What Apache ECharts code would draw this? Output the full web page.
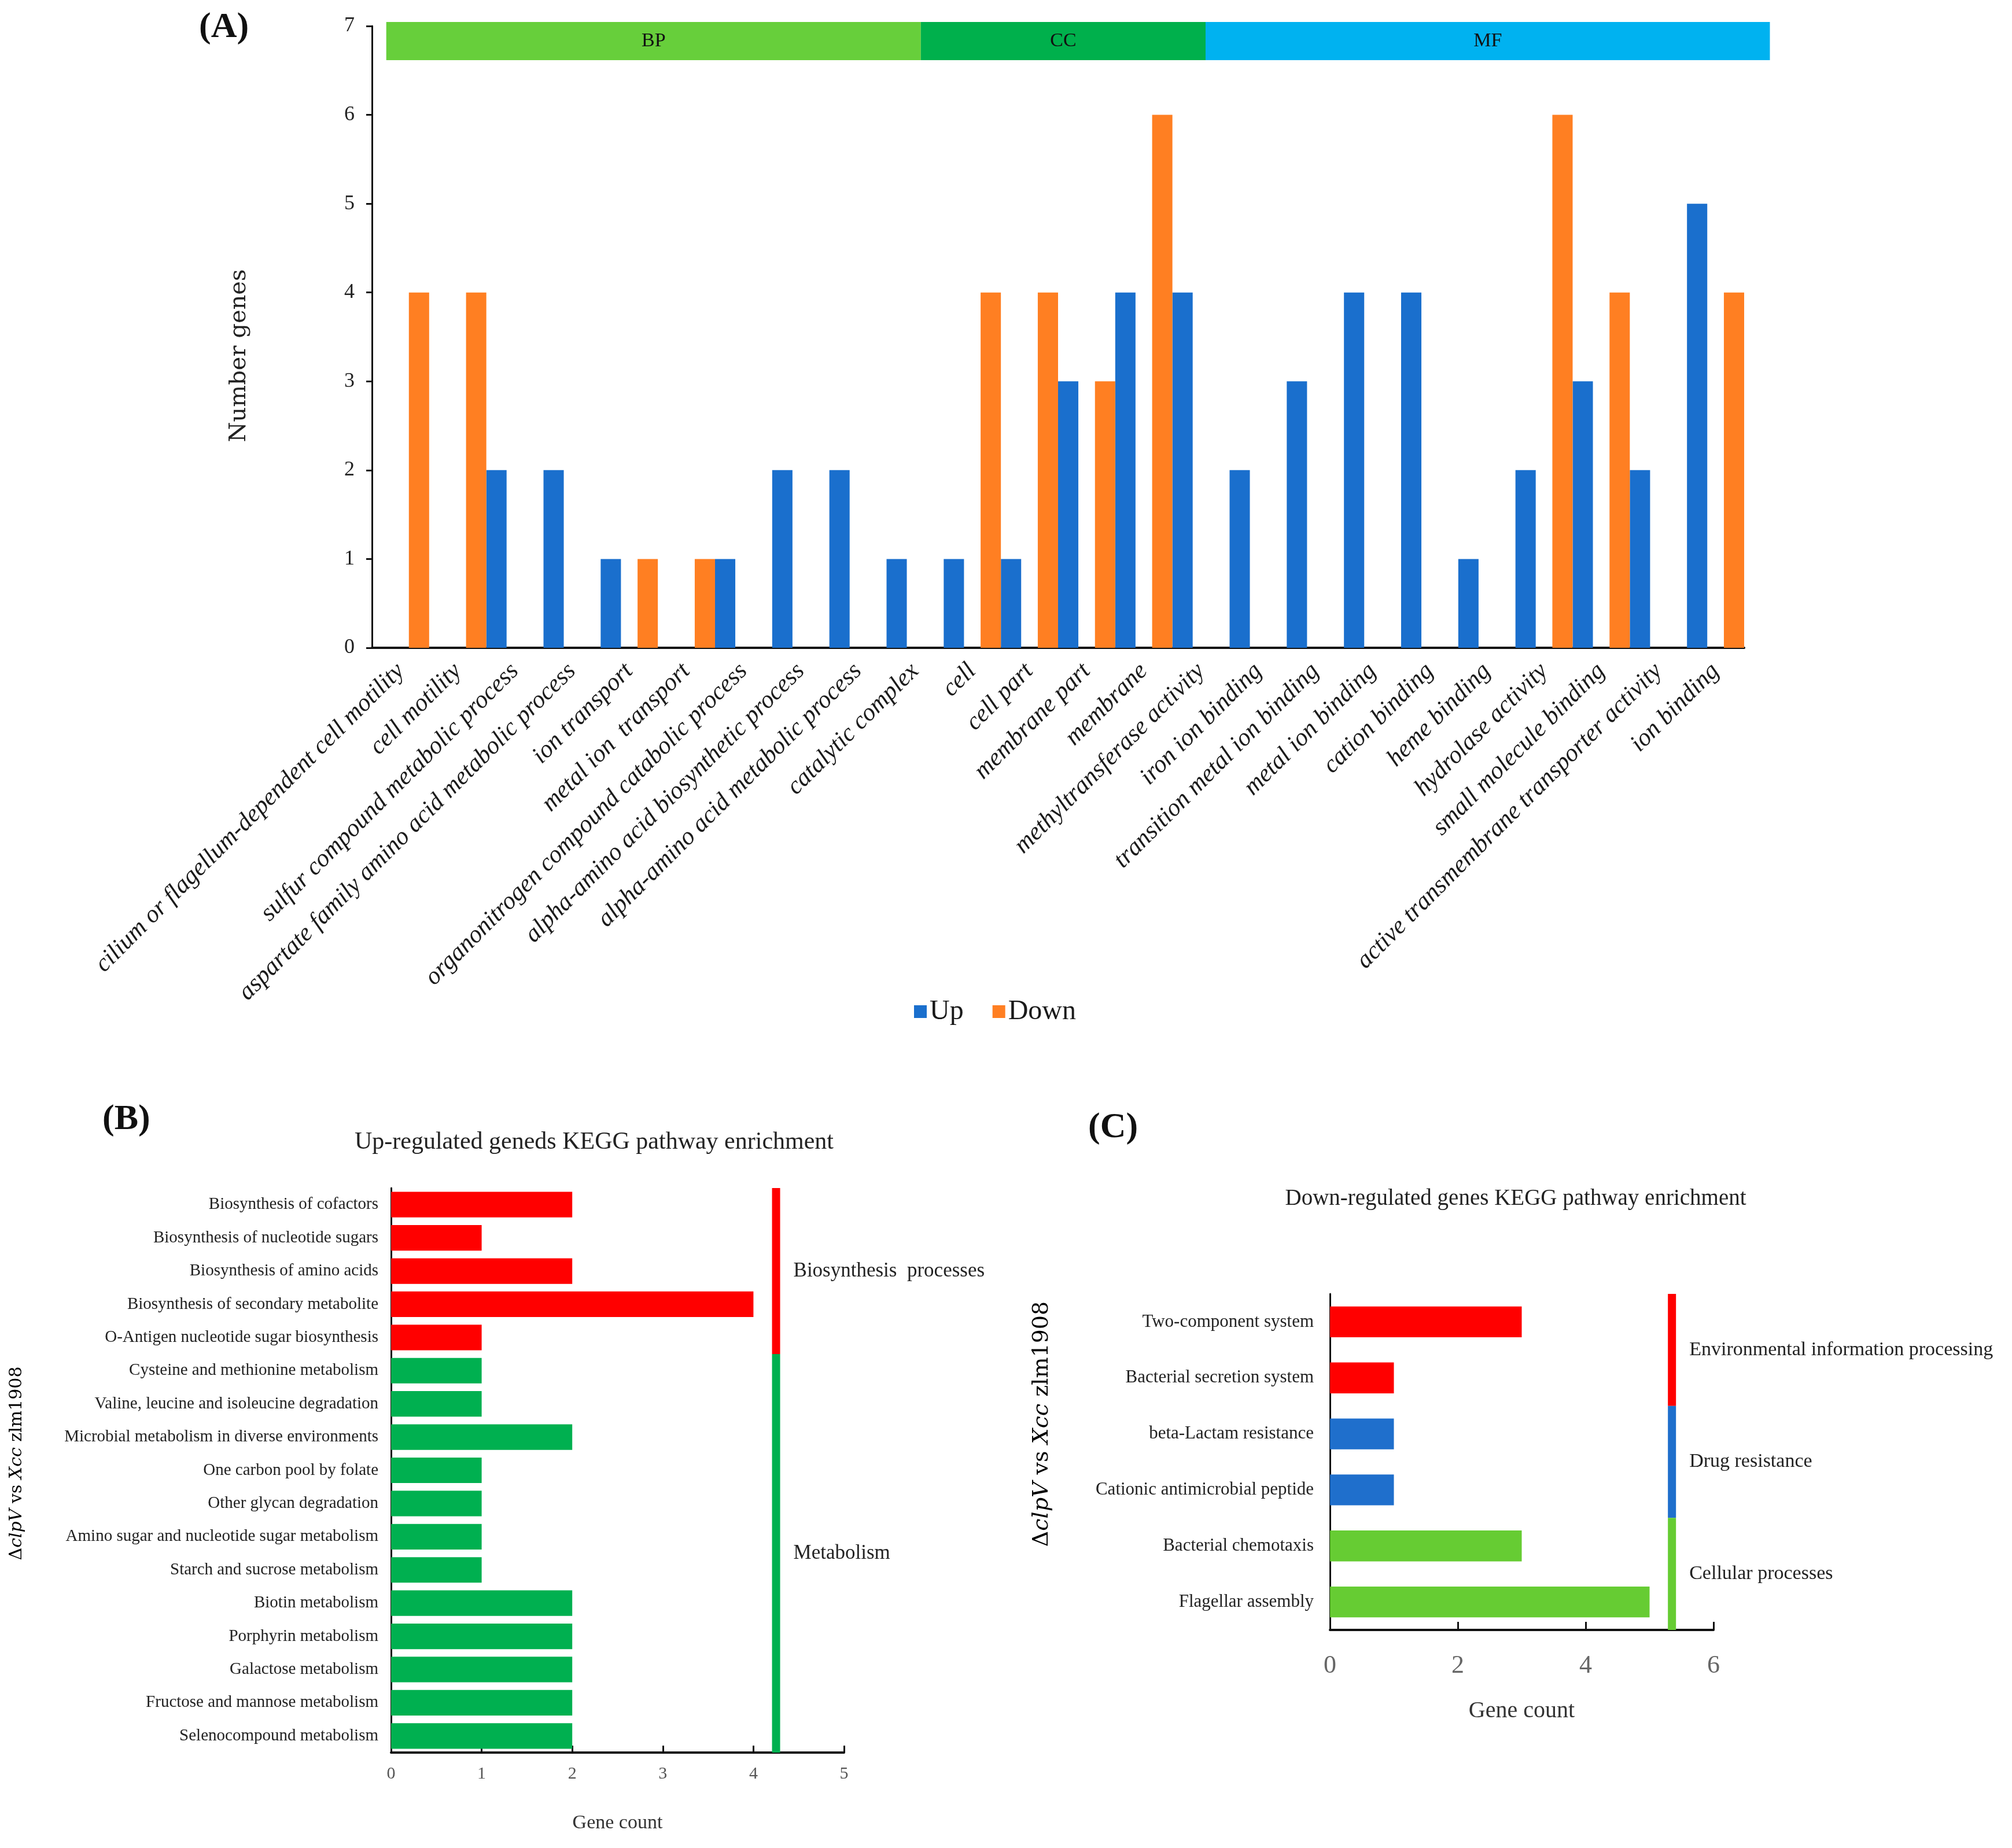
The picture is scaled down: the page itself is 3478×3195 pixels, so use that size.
<!DOCTYPE html>
<html><head><meta charset="utf-8">
<script src="https://cdn.jsdelivr.net/npm/echarts@6/dist/echarts.min.js"></script>
<style>html,body{margin:0;padding:0;background:#fff}#c{width:3478px;height:3195px}</style>
</head><body><div id="c"></div>
<script>
// ---------- Panel A data ----------
const categoriesA = ['cilium or flagellum-dependent cell motility','cell motility','sulfur compound metabolic process','aspartate family amino acid metabolic process','ion transport','metal ion  transport','organonitrogen compound catabolic process','alpha-amino acid biosynthetic process','alpha-amino acid metabolic process','catalytic complex','cell','cell part','membrane part','membrane','methyltransferase activity','iron ion binding','transition metal ion binding','metal ion binding','cation binding','heme binding','hydrolase activity','small molecule binding','active transmembrane transporter activity','ion binding'];
const upA   = [0,0,2,2,1,0,1,2,2,1,1,1,3,4,4,2,3,4,4,1,2,3,2,5];
const downA = [4,4,0,0,1,1,0,0,0,0,4,4,3,6,0,0,0,0,0,0,6,4,0,4];
const stripNames = ['BP','CC','MF'];
const stripFrom = [0.25, 9.6, 14.58];
const stripTo   = [9.6, 14.58, 24.45];

// ---------- Panel B data ----------
const categoriesB = ['Biosynthesis of cofactors','Biosynthesis of nucleotide sugars','Biosynthesis of amino acids','Biosynthesis of secondary metabolite','O-Antigen nucleotide sugar biosynthesis','Cysteine and methionine metabolism','Valine, leucine and isoleucine degradation','Microbial metabolism in diverse environments','One carbon pool by folate','Other glycan degradation','Amino sugar and nucleotide sugar metabolism','Starch and sucrose metabolism','Biotin metabolism','Porphyrin metabolism','Galactose metabolism','Fructose and mannose metabolism','Selenocompound metabolism'];
const valuesB = [2,1,2,4,1,1,1,2,1,1,1,1,2,2,2,2,2];
const groupNamesB = ['Biosynthesis  processes','Metabolism'];
const groupSizesB = [5,12];

// ---------- Panel C data ----------
const categoriesC = ['Two-component system','Bacterial secretion system','beta-Lactam resistance','Cationic antimicrobial peptide','Bacterial chemotaxis','Flagellar assembly'];
const valuesC = [3,1,1,1,3,5];
const groupNamesC = ['Environmental information processing','Drug resistance','Cellular processes'];
const groupSizesC = [2,2,2];

// ---------- styles ----------
const SERIF = 'Liberation Serif';
const WIDE = 'DejaVu Serif';
const UP = '#1A6FCD', DOWN = '#FF7F22';
const stripColors = ['#67CF3B','#00B04C','#00B2F0'];
const groupColorsB = ['#FF0000','#00B050'];
const groupColorsC = ['#FF0000','#1F6FCC','#66CC33'];

function groupOf(sizes, idx){ let acc=0; for(let g=0; g<sizes.length; g++){ acc+=sizes[g]; if(idx<acc) return g; } return sizes.length-1; }
function groupData(sizes, gx){ const out=[]; let s=0; sizes.forEach(n=>{ out.push([gx, s, s+n-1]); s+=n; }); return out; }
function groupRender(names, colors, fontSize){
  return function(params, api){
    const i = params.dataIndex;
    const a = api.coord([api.value(0), api.value(1)]);
    const b = api.coord([api.value(0), api.value(2)]);
    const band = api.size([0,1])[1];
    const top = a[1]-band/2, bot = b[1]+band/2;
    return {type:'group', children:[
      {type:'rect', shape:{x:a[0]-7, y:top, width:14, height:bot-top}, style:{fill:colors[i]}},
      {type:'text', x:a[0]+30, y:(top+bot)/2, style:{text:names[i], fontFamily:SERIF, fontSize:fontSize, fill:'#222', align:'left', verticalAlign:'middle'}}
    ]};
  };
}

const chart = echarts.init(document.getElementById('c'), null, {renderer:'canvas'});
const richY = (fs)=>({ n:{fontFamily:WIDE, fontSize:fs, color:'#333'}, i:{fontFamily:WIDE, fontSize:fs, fontStyle:'italic', color:'#333'} });

chart.setOption({
  backgroundColor:'#ffffff',
  animation:false,
  grid:[
    {left:643, top:45, width:2372, height:1075},
    {left:643, top:38, width:2372, height:66},
    {left:676, top:2054, width:783, height:976},
    {left:2299, top:2237, width:663, height:581}
  ],
  legend:{data:['Up','Down'], left:1575, top:1720, icon:'rect', itemWidth:22, itemHeight:22, itemGap:50,
    textStyle:{fontFamily:SERIF, fontSize:48, color:'#1a1a1a'}},
  xAxis:[
    {gridIndex:0, type:'category', data:categoriesA,
     axisLine:{lineStyle:{color:'#111', width:4}},
     axisTick:{length:14, lineStyle:{color:'#111', width:3}},
     axisLabel:{rotate:45, interval:0, fontFamily:SERIF, fontStyle:'italic', fontSize:43, color:'#1a1a1a', margin:34}},
    {gridIndex:1, type:'value', min:0, max:24, show:false},
    {gridIndex:2, type:'value', min:0, max:5, interval:1,
     axisLine:{show:true, lineStyle:{color:'#111', width:4}},
     axisTick:{show:true, inside:true, length:12, lineStyle:{color:'#111', width:3}},
     splitLine:{show:false},
     axisLabel:{fontFamily:SERIF, fontSize:30, color:'#555', margin:22},
     name:'Gene count', nameLocation:'middle', nameGap:105,
     nameTextStyle:{fontFamily:SERIF, fontSize:34, color:'#333'}},
    {gridIndex:3, type:'value', min:0, max:6, interval:2,
     axisLine:{show:true, lineStyle:{color:'#111', width:4}},
     axisTick:{show:true, inside:true, length:14, lineStyle:{color:'#111', width:3}},
     splitLine:{show:false},
     axisLabel:{fontFamily:SERIF, fontSize:44, color:'#666', margin:40},
     name:'Gene count', nameLocation:'middle', nameGap:120,
     nameTextStyle:{fontFamily:SERIF, fontSize:40, color:'#333'}}
  ],
  yAxis:[
    {gridIndex:0, type:'value', min:0, max:7, interval:1,
     axisLine:{show:true, lineStyle:{color:'#111', width:3}},
     axisTick:{show:true, length:10, lineStyle:{color:'#111', width:3}},
     splitLine:{show:false},
     axisLabel:{fontFamily:SERIF, fontSize:36, color:'#222', margin:30}},
    {gridIndex:1, type:'value', min:0, max:1, show:false},
    {gridIndex:2, type:'category', data:categoriesB, inverse:true,
     axisLine:{lineStyle:{color:'#111', width:3}}, axisTick:{show:false},
     axisLabel:{interval:0, fontFamily:SERIF, fontSize:29, color:'#222', margin:22}},
    {gridIndex:3, type:'category', data:categoriesC, inverse:true,
     axisLine:{lineStyle:{color:'#111', width:3}}, axisTick:{show:false},
     axisLabel:{interval:0, fontFamily:SERIF, fontSize:31, color:'#222', margin:28}}
  ],
  series:[
    {name:'Up', type:'bar', xAxisIndex:0, yAxisIndex:0, data:upA, itemStyle:{color:UP}, barCategoryGap:'0%', barGap:'82%'},
    {name:'Down', type:'bar', xAxisIndex:0, yAxisIndex:0, data:downA, itemStyle:{color:DOWN}, barCategoryGap:'0%', barGap:'82%'},
    {name:'strip', type:'custom', xAxisIndex:1, yAxisIndex:1, clip:false,
     data: stripNames.map((n,i)=>[stripFrom[i], stripTo[i]]),
     encode:{x:[0,1]},
     renderItem:function(params, api){
       const i = params.dataIndex;
       const p0 = api.coord([api.value(0), 1]);
       const p1 = api.coord([api.value(1), 0]);
       return {type:'group', children:[
         {type:'rect', shape:{x:p0[0], y:p0[1], width:p1[0]-p0[0], height:p1[1]-p0[1]}, style:{fill:stripColors[i]}},
         {type:'text', x:(p0[0]+p1[0])/2, y:(p0[1]+p1[1])/2, style:{text:stripNames[i], fontFamily:SERIF, fontSize:34, fill:'#111', align:'center', verticalAlign:'middle'}}
       ]};
     }},
    {name:'B', type:'bar', xAxisIndex:2, yAxisIndex:2, data:valuesB, barCategoryGap:'23%',
     itemStyle:{color:p=>groupColorsB[groupOf(groupSizesB, p.dataIndex)]}},
    {name:'Bgroups', type:'custom', xAxisIndex:2, yAxisIndex:2, clip:false,
     data: groupData(groupSizesB, 4.25), encode:{x:0, y:1},
     renderItem: groupRender(groupNamesB, groupColorsB, 35)},
    {name:'C', type:'bar', xAxisIndex:3, yAxisIndex:3, data:valuesC, barCategoryGap:'45%',
     itemStyle:{color:p=>groupColorsC[groupOf(groupSizesC, p.dataIndex)]}},
    {name:'Cgroups', type:'custom', xAxisIndex:3, yAxisIndex:3, clip:false,
     data: groupData(groupSizesC, 5.35), encode:{x:0, y:1},
     renderItem: groupRender(groupNamesC, groupColorsC, 34)}
  ],
  graphic:[
    {type:'text', x:344, y:48, style:{text:'(A)', fontFamily:SERIF, fontWeight:'bold', fontSize:62, fill:'#111', verticalAlign:'middle'}},
    {type:'text', x:177, y:1936, style:{text:'(B)', fontFamily:SERIF, fontWeight:'bold', fontSize:62, fill:'#111', verticalAlign:'middle'}},
    {type:'text', x:1881, y:1950, style:{text:'(C)', fontFamily:SERIF, fontWeight:'bold', fontSize:62, fill:'#111', verticalAlign:'middle'}},
    {type:'text', x:1027, y:1975, style:{text:'Up-regulated geneds KEGG pathway enrichment', fontFamily:SERIF, fontSize:42, fill:'#222', align:'center', verticalAlign:'middle'}},
    {type:'text', x:2620, y:2073, style:{text:'Down-regulated genes KEGG pathway enrichment', fontFamily:SERIF, fontSize:39, fill:'#222', align:'center', verticalAlign:'middle'}},
    {type:'text', x:414, y:615, rotation:Math.PI/2, style:{text:'Number genes', fontFamily:WIDE, fontSize:40, fill:'#222', align:'center', verticalAlign:'middle'}},
    {type:'text', x:29, y:2530, rotation:Math.PI/2, style:{text:'{n|Δ}{i|clpV}{n| vs }{i|Xcc}{n| zlm1908}', rich:richY(30), align:'center', verticalAlign:'middle'}},
    {type:'text', x:1801, y:2462, rotation:Math.PI/2, style:{text:'{n|Δ}{i|clpV}{n| vs }{i|Xcc}{n| zlm1908}', rich:richY(38), align:'center', verticalAlign:'middle'}}
  ]
});
</script>
</body></html>
